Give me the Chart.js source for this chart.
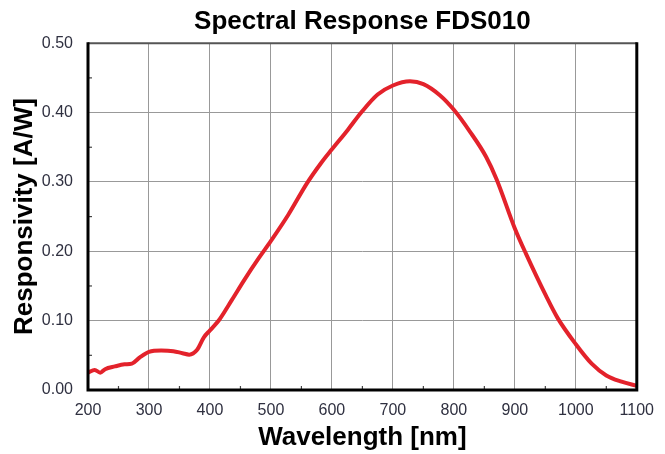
<!DOCTYPE html>
<html>
<head>
<meta charset="utf-8">
<script src="https://cdn.jsdelivr.net/npm/chart.js"></script>
<style>
  html, body { margin: 0; padding: 0; background: #fff; }
  #wrap { width: 665px; height: 454px; }
</style>
</head>
<body>
<div id="wrap"><canvas id="chart"></canvas></div>
<script>
// wavelength [nm] and responsivity [A/W]
const wavelengths = [200, 211, 220, 228, 244, 260, 272, 285, 300, 320, 340, 355, 366, 379, 390,
    400, 415, 436, 458, 480, 500, 528, 559, 582, 600, 626, 648, 675, 700, 728, 750, 777,
    800, 826, 853, 870, 900, 918, 951, 970, 1000, 1026, 1050, 1075, 1100];
const responsivity = [0.025, 0.029, 0.025, 0.030, 0.034, 0.037, 0.038, 0.047, 0.055, 0.057, 0.056, 0.053, 0.051, 0.058, 0.076,
    0.086, 0.101, 0.130, 0.161, 0.190, 0.215, 0.252, 0.298, 0.327, 0.347, 0.375, 0.400, 0.426, 0.439, 0.445, 0.441, 0.425,
    0.404, 0.373, 0.336, 0.304, 0.233, 0.197, 0.136, 0.104, 0.066, 0.038, 0.021, 0.012, 0.006];
const xTicks = [200, 300, 400, 500, 600, 700, 800, 900, 1000, 1100];
const yTicks = [0, 0.1, 0.2, 0.3, 0.4, 0.5];
const xMinor = [250, 350, 450, 550, 650, 750, 850, 950, 1050];
const yMinor = [0.05, 0.15, 0.25, 0.35, 0.45];

const points = wavelengths.map((w, i) => ({ x: w, y: responsivity[i] }));
const FONT = 'Liberation Sans, Arial, sans-serif';

// frame round the plot and the little minor ticks inside it
const framePlugin = {
    id: 'frame',
    afterDraw(chart) {
        const { ctx, chartArea: a, scales } = chart;
        ctx.save();
        ctx.strokeStyle = '#444';
        ctx.lineWidth = 1.2;
        xMinor.forEach(v => {
            const px = scales.x.getPixelForValue(v);
            ctx.beginPath(); ctx.moveTo(px, a.bottom); ctx.lineTo(px, a.bottom - 4); ctx.stroke();
        });
        yMinor.forEach(v => {
            const py = scales.y.getPixelForValue(v);
            ctx.beginPath(); ctx.moveTo(a.left, py); ctx.lineTo(a.left + 4, py); ctx.stroke();
        });
        ctx.strokeStyle = '#555';
        ctx.lineWidth = 2;
        ctx.beginPath(); ctx.moveTo(a.left, a.top); ctx.lineTo(a.right, a.top); ctx.stroke();
        ctx.strokeStyle = '#000';
        ctx.lineWidth = 3;
        ctx.beginPath();
        ctx.moveTo(a.left, a.top - 1);
        ctx.lineTo(a.left, a.bottom);
        ctx.lineTo(a.right, a.bottom);
        ctx.lineTo(a.right, a.top - 1);
        ctx.stroke();
        ctx.restore();
    }
};

new Chart(document.getElementById('chart'), {
    type: 'line',
    data: {
        datasets: [{
            data: points,
            borderColor: '#e3222b',
            borderWidth: 4,
            pointRadius: 0,
            cubicInterpolationMode: 'monotone',
            fill: false
        }]
    },
    options: {
        responsive: true,
        maintainAspectRatio: false,
        animation: false,
        layout: { padding: { left: 0, right: 23, top: 0, bottom: 0 } },
        plugins: {
            legend: { display: false },
            tooltip: { enabled: false },
            title: {
                display: true,
                fullSize: false,
                text: 'Spectral Response FDS010',
                color: '#000',
                font: { family: FONT, size: 26, weight: 'bold' },
                padding: { top: 6, bottom: 6 }
            }
        },
        scales: {
            x: {
                type: 'linear',
                min: 200,
                max: 1100,
                afterBuildTicks: s => { s.ticks = xTicks.map(v => ({ value: v })); },
                afterFit: s => { s.height = 64; },
                ticks: {
                    color: '#2f3040',
                    padding: 11,
                    font: { family: FONT, size: 16 },
                    callback: v => String(v)
                },
                grid: { color: '#999', lineWidth: 1, drawTicks: false },
                border: { display: false },
                title: {
                    display: true,
                    text: 'Wavelength [nm]',
                    color: '#000',
                    font: { family: FONT, size: 26, weight: 'bold' },
                    padding: { top: 0, bottom: 1 }
                }
            },
            y: {
                min: 0,
                max: 0.5,
                afterBuildTicks: s => { s.ticks = yTicks.map(v => ({ value: v })); },
                afterFit: s => { s.width = 88; },
                ticks: {
                    color: '#2f3040',
                    padding: 15,
                    font: { family: FONT, size: 16 },
                    callback: v => v.toFixed(2)
                },
                grid: { color: '#999', lineWidth: 1, drawTicks: false },
                border: { display: false },
                title: {
                    display: true,
                    text: 'Responsivity [A/W]',
                    color: '#000',
                    font: { family: FONT, size: 26, weight: 'bold' },
                    padding: { top: 9, bottom: 0 }
                }
            }
        }
    },
    plugins: [framePlugin]
});
</script>
</body>
</html>
